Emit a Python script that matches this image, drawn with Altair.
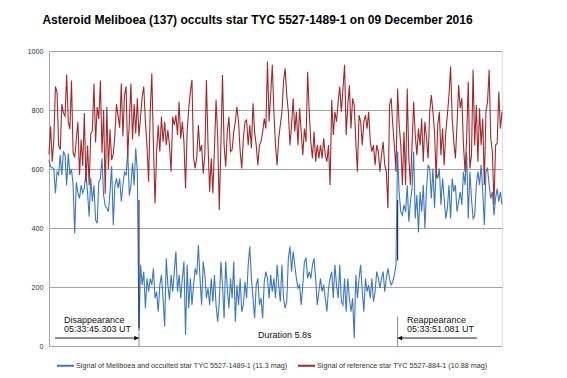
import altair as alt
import pandas as pd

# ---- data (frame index order) ----
blue_pre = [630, 608, 605, 600, 518, 590, 580, 647, 580, 660,
            647, 545, 653, 580, 600, 545, 382, 555, 520, 500,
            545, 518, 535, 590, 520, 438, 570, 490, 545, 427,
            416, 556, 568, 636, 510, 475, 467, 455, 525, 610,
            410, 545, 568, 535, 568, 490, 545, 590, 578, 660,
            510, 545, 620, 545, 670, 590]
blue_during = [49, 275, 207, 252, 128, 229, 184, 229, 207, 263,
               162, 184, 116, 207, 241, 162, 66, 297, 207, 156,
               241, 184, 252, 320, 184, 241, 162, 229, 286, 37,
               275, 128, 229, 139, 207, 263, 241, 342, 229, 139,
               286, 241, 162, 196, 139, 229, 150, 241, 139, 82,
               150, 286, 207,
               94, 286, 196, 128, 229, 162, 286, 82, 207, 139,
               229, 116, 139, 218, 162, 275, 337, 229, 162, 94,
               207, 229, 139, 162, 94, 218, 252, 229, 162, 241,
               184, 229, 162, 275, 207, 150, 275, 162, 128, 150,
               297, 337, 252, 320, 275, 229, 196, 207, 139, 207,
               286, 297, 229, 252,
               229, 275, 297, 229, 139, 184, 229, 184, 207, 162,
               116, 196, 229, 252, 162, 275, 207, 162, 275, 150,
               139, 229, 116, 229, 162, 116, 162, 26, 241, 162,
               229, 275, 184, 116, 229, 184, 207, 162, 229, 150,
               184, 252, 229, 196, 229, 252, 184, 229, 263, 229,
               207, 218, 241, 275]
blue_post = [660, 518, 455, 443, 478, 455, 545, 421, 489, 534,
             659, 432, 512, 385, 523, 455, 546, 399, 534, 614,
             602, 500, 602, 467, 591, 568, 602, 478, 568, 500,
             432, 467, 546, 432, 568, 523, 546, 455, 489, 523,
             478, 591, 546, 657, 432, 591, 500, 432, 443, 546,
             591, 546, 614, 523, 410, 591, 602, 546, 500, 523,
             443, 500, 534, 489, 523, 480]

red_pre = [650, 745, 625, 700, 880, 860, 680, 665, 820, 790,
           780, 920, 760, 735, 900, 655, 640, 700, 760, 580,
           700, 610, 790, 555, 680, 545, 720, 730, 890, 690,
           810, 770, 900, 655, 800, 515, 810, 600, 735, 630,
           650, 715, 820, 780, 740, 890, 710, 850, 880, 640,
           760, 890, 700, 820, 720, 840]
red_during = [710, 777, 845, 879, 760, 681, 557, 794, 924, 681,
              483, 659, 749, 659, 777, 692, 760, 681, 732, 681,
              591, 777, 749, 783, 715, 828, 703, 760, 692, 534,
              726, 806, 862, 902, 636, 602, 641, 749, 659, 681,
              585, 647, 902, 681, 523, 636, 518, 670, 834, 709,
              461, 681, 919, 681, 608, 726, 777,
              659, 665, 726, 760, 811, 760, 659, 602, 704, 760,
              766, 681, 749, 670, 823, 726, 681, 613, 681, 692,
              726, 771, 737, 964, 760, 851, 953, 794, 681, 613,
              704, 749, 794, 896, 941, 851, 794, 681, 749, 839,
              726, 794, 681, 806, 726, 647, 737, 692, 930, 794,
              692, 636, 726, 625, 681, 636,
              681, 636, 704, 647, 625, 681, 546, 834, 715, 794,
              760, 828, 879, 794, 873, 953, 715, 817, 885, 737,
              839, 817, 692, 591, 783, 760, 681, 760, 783, 737,
              794, 692, 659, 681, 613, 681, 659, 591, 647, 692,
              613, 591, 467, 817, 840, 749, 681, 591]
red_post = [873, 749, 681, 546, 726, 546, 873, 636, 546, 681,
            828, 715, 647, 737, 681, 771, 625, 760, 704, 636,
            794, 851, 794, 726, 568, 749, 794, 647, 737, 613,
            726, 783, 851, 947, 771, 692, 636, 749, 885, 806,
            840, 681, 591, 704, 896, 602, 647, 936, 681, 817,
            625, 806, 681, 771, 546, 794, 828, 936, 704, 659,
            478, 681, 687, 862, 737, 794]

BLUE_NAME = "Signal of Meliboea and occulted star TYC 5527-1489-1 (11.3 mag)"
RED_NAME = "Signal of reference star TYC 5527-884-1 (10.88 mag)"
TITLE = "Asteroid Meliboea (137) occults star TYC 5527-1489-1 on 09 December 2016"
y_ticks = [0, 200, 400, 600, 800, 1000]

blue = blue_pre + blue_during + blue_post
red = red_pre + red_during + red_post
n = len(blue)
i_dis = len(blue_pre)                      # disappearance frame
i_rea = len(blue_pre) + len(blue_during)   # reappearance frame

df = pd.DataFrame({
    "idx": list(range(n)) * 2,
    "value": blue + red,
    "series": [BLUE_NAME] * n + [RED_NAME] * n,
})

FONT = "Liberation Sans"
x_scale = alt.Scale(domain=[0, n - 1], nice=False, zero=False)
y_scale = alt.Scale(domain=[0, 1000], nice=False)
yax = alt.Axis(values=y_ticks, format="d", title=None, ticks=False,
               labelFontSize=7.2, labelFont=FONT, labelPadding=6,
               labelColor="#333333", gridColor="#a6a6a6",
               domainColor="#a6a6a6", gridWidth=1)

lines = alt.Chart(df).mark_line(strokeWidth=1.1).encode(
    x=alt.X("idx:Q", scale=x_scale, axis=None),
    y=alt.Y("value:Q", scale=y_scale, axis=yax),
    color=alt.Color("series:N",
                    scale=alt.Scale(domain=[BLUE_NAME, RED_NAME],
                                    range=["#3c77c0", "#a1282d"]),
                    legend=alt.Legend(orient="none", legendX=7, legendY=305,
                                      direction="horizontal", title=None,
                                      symbolType="stroke", symbolSize=289,
                                      symbolStrokeWidth=2, labelFontSize=7.2,
                                      labelFont=FONT, labelLimit=400,
                                      columnPadding=6, labelOffset=1,
                                      labelColor="#333333")),
)

# event markers
gray_rules = pd.DataFrame({"x": [i_dis, i_rea], "y": [0, 0], "y2": [45, 100]})
dark_rules = pd.DataFrame({"x": [i_dis, i_rea], "y": [60, 290], "y2": [495, 495]})
arrows = pd.DataFrame({"x": [3.7, i_rea], "x2": [i_dis, 266.5], "y": [27, 27]})
head_r = pd.DataFrame({"x": [i_dis - 1.6], "y": [27]})
head_l = pd.DataFrame({"x": [i_rea + 1.6], "y": [27]})
labels = pd.DataFrame({
    "x": [9.3, 9.3, 130.1, 222.9, 222.9],
    "y": [88, 58, 37, 88, 58],
    "text": ["Disappearance", "05:33:45.303 UT", "Duration 5.8s",
             "Reappearance", "05:33:51.081 UT"],
})

def X(f):
    return alt.X(f, scale=x_scale, axis=None)

def Y(f):
    return alt.Y(f, scale=y_scale, axis=yax)

g = alt.Chart(gray_rules).mark_rule(color="#8c8c8c", strokeWidth=1).encode(
    x=X("x:Q"), y=Y("y:Q"), y2="y2:Q")
d = alt.Chart(dark_rules).mark_rule(color="#1f3864", strokeWidth=1.2).encode(
    x=X("x:Q"), y=Y("y:Q"), y2="y2:Q")
a = alt.Chart(arrows).mark_rule(color="#222222", strokeWidth=1).encode(
    x=X("x:Q"), x2="x2:Q", y=Y("y:Q"))
hr = alt.Chart(head_r).mark_point(shape="triangle-right", filled=True, size=22,
                                  color="#000000", opacity=1).encode(
    x=X("x:Q"), y=Y("y:Q"))
hl = alt.Chart(head_l).mark_point(shape="triangle-left", filled=True, size=22,
                                  color="#000000", opacity=1).encode(
    x=X("x:Q"), y=Y("y:Q"))
t = alt.Chart(labels).mark_text(align="left", baseline="middle", fontSize=9,
                                font=FONT, color="#111111").encode(
    x=X("x:Q"), y=Y("y:Q"), text="text:N")

chart = alt.layer(lines, g, d, a, hr, hl, t).properties(
    width=453, height=295,
    autosize=alt.AutoSizeParams(type="none"),
    padding={"left": 41, "top": 43, "right": 57, "bottom": 25},
    title=alt.TitleParams(text=TITLE, font=FONT, fontSize=12, fontWeight="bold",
                          color="#000000", anchor="middle", dx=-18, offset=20),
).configure_view(stroke=None).configure(background="white")

chart.save("out.html", embed_options={"renderer": "svg", "actions": False})
